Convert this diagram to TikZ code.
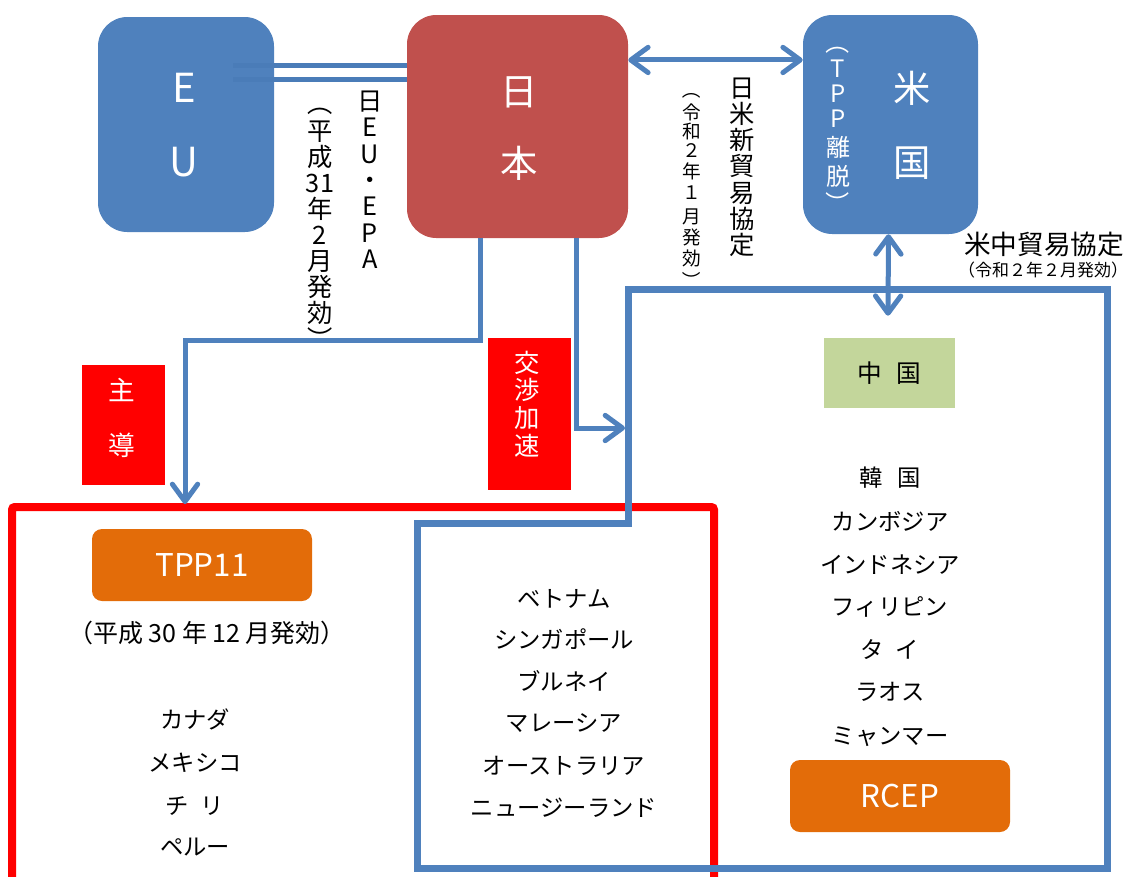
\documentclass[tikz,border=0pt]{standalone}
\usepackage{fontspec}
\setmainfont{Noto Sans CJK JP}
\usetikzlibrary{arrows.meta}
\definecolor{cblue}{HTML}{4F81BD}
\definecolor{clineblue}{HTML}{4A7CB8}
\definecolor{cjred}{HTML}{C0504D}
\definecolor{corange}{HTML}{E36C09}
\definecolor{cgreen}{HTML}{C3D69B}
\definecolor{cred}{HTML}{FF0000}
\newcommand{\vop}{\makebox[0.5em][r]{（}}
\newcommand{\vcl}{\makebox[0.5em][l]{）}}
\tikzset{
  txt/.style={inner sep=0pt, font=\fontsize{#1}{#1}\selectfont, text height=0.88*#1pt, text depth=0.12*#1pt, anchor=center},
  vpar/.style={txt=#1, rotate=-90},
  bigbox/.style={rounded corners=22pt, inner sep=0pt, draw=none},
  labbox/.style={fill=cred, inner sep=0pt, draw=none},
  orbox/.style={rounded corners=7.5pt, fill=corange, inner sep=0pt, text=white, font=\fontsize{23.5}{23.5}\selectfont},
  conn/.style={draw=cblue, line width=3.75pt},
  tipend/.style={-{Straight Barb[length=13pt,width=19pt,round]}},
  tipboth/.style={{Straight Barb[length=13pt,width=19pt,round]}-{Straight Barb[length=13pt,width=19pt,round]}},
}
\begin{document}
\begin{tikzpicture}[x=0.75pt,y=-0.75pt]
\useasboundingbox (0,0) rectangle (1132,876);

% regions
\draw[cred, line width=6pt, rounded corners=2pt] (12,900) -- (12,507) -- (714,507) -- (714,900);
\draw[cblue, line width=5.25pt, line join=miter] (628,289) -- (1107,289) -- (1107,868) -- (417,868) -- (417,523) -- (628,523) -- cycle;

% top boxes
\node[bigbox, fill=cblue, minimum width=132pt, minimum height=161.25pt] (eu) at (186,124.5) {};
\node[bigbox, fill=cjred, minimum width=165.75pt, minimum height=167.25pt] (jp) at (517.5,126.5) {};
\node[bigbox, fill=cblue, minimum width=131.25pt, minimum height=164.25pt] (us) at (890.5,124.5) {};

\node[txt=30, white] (euE) at (184,87) {E};
\node[txt=30, white] (euU) at (184,161) {U};
\node[txt=28, white] (jpNi) at (519,91) {日};
\node[txt=28, white] (jpHon) at (519,163) {本};
\node[txt=28, white] (usBei) at (912,88) {米};
\node[txt=28, white] (usKoku) at (912,162) {国};
\node[vpar=18, white] (trOpen) at (838,48) {\vop};
\foreach \c/\y [count=\i] in {T/68,P/93,P/118,離/147,脱/176}
  \node[txt=18, white] (tr\i) at (838,\y) {\c};
\node[vpar=18, white] (trClose) at (838,197) {\vcl};

% EU - Japan double line
\draw[clineblue, line width=3.75pt] ([shift={(-41,-59.5)}]eu.east) -- ([shift={(0,-61.5)}]jp.west);
\draw[clineblue, line width=3.75pt] ([shift={(-41,-45.5)}]eu.east) -- ([shift={(0,-47.5)}]jp.west);

% vertical labels
\foreach \c/\y [count=\i] in {日/101,E/127,U/154,・/180,E/206,P/233,A/259}
  \node[txt=19] (ep\i) at (370,\y) {\c};
\node[vpar=19] (edOpen) at (320,109) {\vop};
\foreach \c/\y [count=\i] in {平/131,成/157,31/183,年/209,2/235,月/261,発/287,効/313}
  \node[txt=19] (ed\i) at (320,\y) {\c};
\node[vpar=19] (edClose) at (320,333) {\vcl};
\foreach \c/\y [count=\i] in {日/88,米/114,新/140,貿/166,易/193,協/219,定/245}
  \node[txt=19] (nb\i) at (742,\y) {\c};
\node[vpar=14] (ndOpen) at (692,94) {\vop};
\foreach \c/\y [count=\i] in {令/112,和/131,２/150,年/171,１/192,月/216,発/237,効/258}
  \node[txt=14] (nd\i) at (692,\y) {\c};
\node[vpar=14] (ndClose) at (692,276) {\vcl};

% Japan - US arrow
\draw[conn, tipboth] ([yshift=49.9pt]jp.east) -- ([yshift=48.4pt]us.west);

% China
\node[fill=cgreen, minimum width=98.25pt, minimum height=52.5pt, inner sep=0pt] (cn) at (889.5,373) {};
\node[txt=18.5] (cnText) at (889.5,373) {中\hspace{0.6em}国};

% US - China arrow
\draw[conn, tipboth] ([xshift=-1.5pt]us.south) -- ([shift={(-1.5,-22)}]cn.north);
\node[txt=20] (bcTitle) at (1044,244) {米中貿易協定};
\node[txt=12.75] (bcDate) at (1043,270) {（令和２年２月発効）};

% Japan -> TPP / RCEP
\coordinate (tpptip) at (185,504);
\coordinate (rceptip) at (625,428);
\draw[conn, tipend] ([xshift=-27.4pt]jp.south) -- ++(0,102) -| (tpptip);
\draw[conn, tipend] ([xshift=44.6pt]jp.south) |- (rceptip);

% red labels
\node[labbox, minimum width=62.25pt, minimum height=90pt] (shudo) at (123.5,425) {};
\node[txt=20, white] (sh1) at (122,390) {主};
\node[txt=20, white] (sh2) at (122,445) {導};
\node[labbox, minimum width=62.25pt, minimum height=114pt] (kosho) at (529.5,414) {};
\foreach \c/\y [count=\i] in {交/363,渉/390,加/418,速/446}
  \node[txt=19, white] (ks\i) at (527,\y) {\c};

% TPP11
\node[orbox, minimum width=165pt, minimum height=54pt] (tpp) at (202,565) {TPP11};
\node[txt=18.75] (tppDate) at (207,633) {（平成 30 年 12 月発効）};
\foreach \c/\y [count=\i] in {カナダ/720,メキシコ/763,チ\hspace{0.5em}リ/806,ペルー/847}
  \node[txt=17.5] (tl\i) at (195,\y) {\c};

% middle list
\foreach \c/\y [count=\i] in {ベトナム/599,シンガポール/640,ブルネイ/682,マレーシア/723,オーストラリア/766,ニュージーランド/808}
  \node[txt=17.5] (ml\i) at (564,\y) {\c};

% RCEP list
\foreach \c/\y [count=\i] in {韓\hspace{0.6em}国/478,カンボジア/522,インドネシア/565,フィリピン/607,タ\hspace{0.5em}イ/650,ラオス/692,ミャンマー/736}
  \node[txt=17.5] (rl\i) at (890,\y) {\c};
\node[orbox, minimum width=165pt, minimum height=54pt] (rcep) at (900,796) {RCEP};
\end{tikzpicture}
\end{document}
